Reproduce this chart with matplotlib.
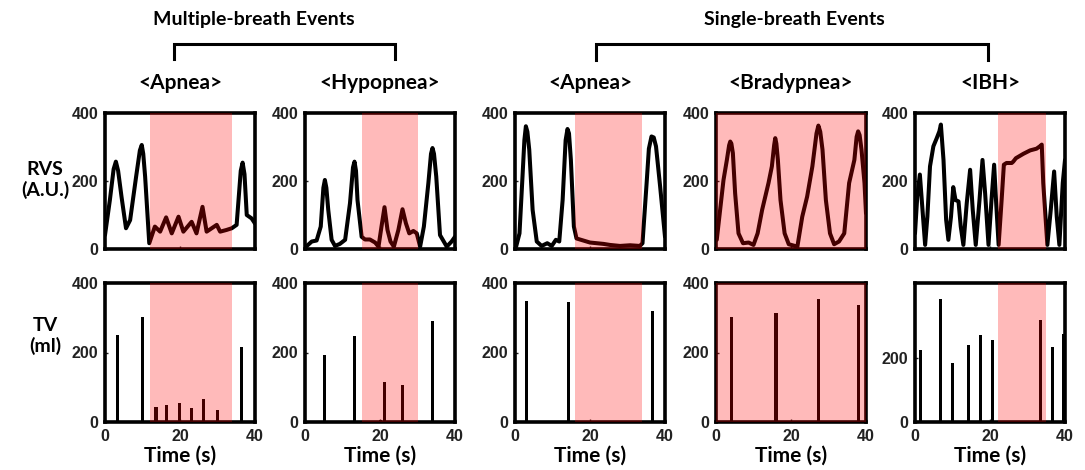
import matplotlib
matplotlib.use("Agg")
import matplotlib.pyplot as plt

# ---------------- data ----------------
titles = ["<Apnea>", "<Hypopnea>", "<Apnea>", "<Bradypnea>", "<IBH>"]
group_titles = ["Multiple-breath Events", "Single-breath Events"]
row_labels = ["RVS\n(A.U.)", "TV\n(ml)"]
x_ticks = [0, 20, 40]

# shaded event windows (s)
shade = [(12.0, 33.8), (15.1, 30.2), (16.0, 33.8), (0.0, 40.0), (22.2, 34.9)]

# RVS traces (time s, value A.U.)
rvs1_t = [0, 1.3, 2.3, 2.9, 3.5, 4.4, 5.6, 6.7, 8.3, 9.3, 9.8, 10.2, 10.7, 11.8, 13.3, 14.7, 16.3,
          17.8, 19.6, 20.9, 23.1, 24.4, 26.0, 27.1, 29.8, 30.7, 32.4, 33.8, 35.1, 36.2, 36.7,
          37.2, 37.8, 39.1, 40]
rvs1_v = [41, 144, 235, 257, 230, 154, 61, 85, 213, 290, 306, 280, 213, 17, 66, 51, 93,
          46, 95, 51, 80, 46, 124, 51, 71, 51, 56, 61, 71, 230, 254,
          220, 100, 90, 75]

rvs2_t = [0.3, 1.8, 3.1, 4.2, 4.9, 5.3, 5.7, 6.2, 7.1, 8.0, 9.3, 10.7, 12.0, 12.8, 13.2, 13.6,
          14.0, 15.1, 16.0, 17.3, 18.7, 19.6, 20.4, 21.2, 22.0, 22.8, 23.7, 24.9, 26.0, 26.9,
          27.8, 28.9, 29.8, 30.7, 31.7, 32.9, 33.6, 34.0, 34.4, 35.0, 36.0, 37.8, 39.1, 40]
rvs2_v = [7, 22, 25, 66, 180, 203, 180, 115, 27, 9, 15, 27, 135, 240, 257, 230,
          144, 36, 28, 28, 19, 7, 66, 123, 56, 22, 7, 56, 117, 76,
          46, 53, 46, 7, 66, 194, 280, 297, 280, 213, 41, 7, 22, 36]

rvs3_t = [0.3, 1.2, 2.0, 2.5, 2.9, 3.3, 3.8, 4.7, 5.8, 7.1, 8.6, 9.8, 10.9, 11.8, 12.7, 13.5,
          14.0, 14.4, 14.9, 15.7, 16.4, 18.2, 20.0, 21.8, 23.6, 25.3, 28.0, 30.7, 33.3, 34.0,
          35.1, 35.7, 36.4, 37.0, 37.6, 38.7, 40]
rvs3_v = [7, 46, 213, 320, 361, 345, 292, 115, 22, 9, 17, 9, 27, 22, 144, 320,
          353, 340, 262, 66, 31, 25, 19, 17, 15, 12, 9, 11, 9, 17,
          194, 295, 331, 328, 302, 184, 36]

rvs4_t = [0.2, 1.1, 2.0, 2.9, 3.5, 3.8, 4.1, 4.5, 5.1, 6.0, 7.2, 8.7, 10.0, 11.1, 12.3, 14.0,
          14.9, 15.5, 15.8, 16.1, 16.5, 17.2, 18.3, 19.4, 21.7, 23.0, 24.3, 25.7, 26.8, 27.3,
          27.8, 28.4, 29.3, 30.4, 31.5, 32.8, 34.2, 35.5, 36.9, 37.5, 37.9, 38.3, 38.8, 39.6, 40]
rvs4_v = [27, 115, 203, 262, 305, 316, 310, 282, 164, 46, 17, 19, 12, 46, 115, 194,
          243, 305, 326, 310, 262, 144, 46, 14, 7, 95, 154, 243, 340, 363,
          345, 292, 144, 46, 14, 22, 46, 194, 262, 330, 346, 335, 292, 194, 105]

rvs5_t = [0, 0.6, 1.3, 2.0, 2.7, 3.3, 4.0, 4.9, 5.8, 6.5, 6.9, 7.6, 8.3, 8.9, 9.6, 10.2, 10.8,
          11.6, 12.2, 12.9, 13.8, 14.7, 15.4, 16.2, 17.2, 18.0, 18.7, 19.6, 20.4, 21.1, 21.6,
          22.3, 23.1, 23.7, 24.4, 25.8, 26.2, 26.9, 28.9, 30.7, 32.4, 33.3, 33.8, 34.2, 35.3,
          36.2, 37.1, 37.8, 38.5, 39.4, 40]
rvs5_v = [46, 154, 219, 115, 12, 95, 243, 302, 326, 346, 366, 262, 86, 27, 95, 182, 144,
          140, 66, 12, 135, 233, 115, 12, 144, 262, 164, 12, 144, 248, 144,
          12, 144, 248, 253, 253, 257, 267, 280, 290, 295, 302, 307, 194, 12,
          115, 228, 95, 12, 194, 262]

# TV breaths (time s, volume ml)
tv1_t = [3.4, 10.1, 13.6, 16.4, 19.8, 23.1, 26.2, 29.95, 36.5]
tv1_v = [250, 302, 44, 50, 56, 39, 66, 34, 215]
tv2_t = [5.2, 13.2, 20.2, 21.3, 26.0, 34.1]
tv2_v = [193, 247, 5, 116, 107, 290]
tv3_t = [3.1, 14.2, 36.7]
tv3_v = [349, 344, 320]
tv4_t = [4.2, 16.0, 27.3, 37.9]
tv4_v = [302, 315, 353, 336]
tv5_t = [1.4, 6.8, 10.1, 14.3, 17.5, 20.7, 33.4, 36.7, 39.5]
tv5_v = [223, 381, 182, 240, 270, 256, 316, 234, 272]

rvs = [(rvs1_t, rvs1_v), (rvs2_t, rvs2_v), (rvs3_t, rvs3_v), (rvs4_t, rvs4_v), (rvs5_t, rvs5_v)]
tv = [(tv1_t, tv1_v), (tv2_t, tv2_v), (tv3_t, tv3_v), (tv4_t, tv4_v), (tv5_t, tv5_v)]
tv_yticks = [[0, 200, 400]] * 4 + [[0, 200]]
tv_ylim = [400, 400, 400, 400, 432]

# ---------------- layout ----------------
W, H = 1085, 470
fig = plt.figure(figsize=(W / 100, H / 100), dpi=100)

narrow = ["Lato", "Open Sans", "DejaVu Sans"]
tickfont = ["Liberation Sans", "DejaVu Sans"]

lefts_px = [105, 305, 515, 716, 915]
width_px = 150
top_row = (113, 249)
bot_row = (283, 422)

def ax_rect(lpx, row):
    t, b = row
    return [lpx / W, 1 - b / H, width_px / W, (b - t) / H]

def style(ax):
    for s in ax.spines.values():
        s.set_linewidth(2.6)
        s.set_color("black")
    ax.tick_params(direction="in", length=2, width=1, pad=5, labelsize=11.5,
                   colors="#222222")
    for lab in ax.get_xticklabels() + ax.get_yticklabels():
        lab.set_fontfamily(tickfont)
        lab.set_fontweight("bold")

shade_color = "red"
shade_alpha = 0.27

for i in range(5):
    # top row: RVS
    ax = fig.add_axes(ax_rect(lefts_px[i], top_row))
    t, v = rvs[i]
    ax.plot(t, v, color="black", lw=2.9, zorder=2, solid_joinstyle="round",
            solid_capstyle="round")
    ax.axvspan(shade[i][0], shade[i][1], color=shade_color, alpha=shade_alpha, lw=0, zorder=3)
    ax.set_xlim(0, 40)
    ax.set_ylim(0, 400)
    ax.set_xticks(x_ticks)
    ax.set_xticklabels([])
    ax.set_yticks([0, 200, 400])
    style(ax)
    ax.set_title(titles[i], fontsize=15, fontweight="bold", family=narrow, pad=17)

    # bottom row: TV
    ax2 = fig.add_axes(ax_rect(lefts_px[i], bot_row))
    t2, v2 = tv[i]
    ax2.bar(t2, v2, width=0.85, color="black", zorder=2)
    ax2.axvspan(shade[i][0], shade[i][1], color=shade_color, alpha=shade_alpha, lw=0, zorder=3)
    ax2.set_xlim(0, 40)
    ax2.set_ylim(0, tv_ylim[i])
    ax2.set_xticks(x_ticks)
    ax2.set_yticks(tv_yticks[i])
    style(ax2)
    ax2.set_xlabel("Time (s)", fontsize=15, fontweight="bold", family=narrow, labelpad=1)

# row labels
fig.text(45 / W, 1 - 180 / H, row_labels[0], ha="center", va="center", fontsize=14,
         fontweight="bold", family=narrow, linespacing=1.25)
fig.text(45 / W, 1 - 336 / H, row_labels[1], ha="center", va="center", fontsize=14,
         fontweight="bold", family=narrow, linespacing=1.25)

# group titles and brackets
fig.text(254 / W, 1 - 19 / H, group_titles[0], ha="center", va="center", fontsize=14,
         fontweight="bold", family=narrow)
fig.text(794 / W, 1 - 19 / H, group_titles[1], ha="center", va="center", fontsize=14,
         fontweight="bold", family=narrow)

def bracket(x0, x1, ytop, ybot):
    xs = [x0 / W, x0 / W, x1 / W, x1 / W]
    ys = [1 - ybot / H, 1 - ytop / H, 1 - ytop / H, 1 - ybot / H]
    fig.add_artist(plt.Line2D(xs, ys, color="black", lw=2.2, solid_joinstyle="miter",
                              transform=fig.transFigure))

bracket(174, 395, 44, 59)
bracket(596, 988, 44, 60)

fig.savefig("out.png", dpi=100)
